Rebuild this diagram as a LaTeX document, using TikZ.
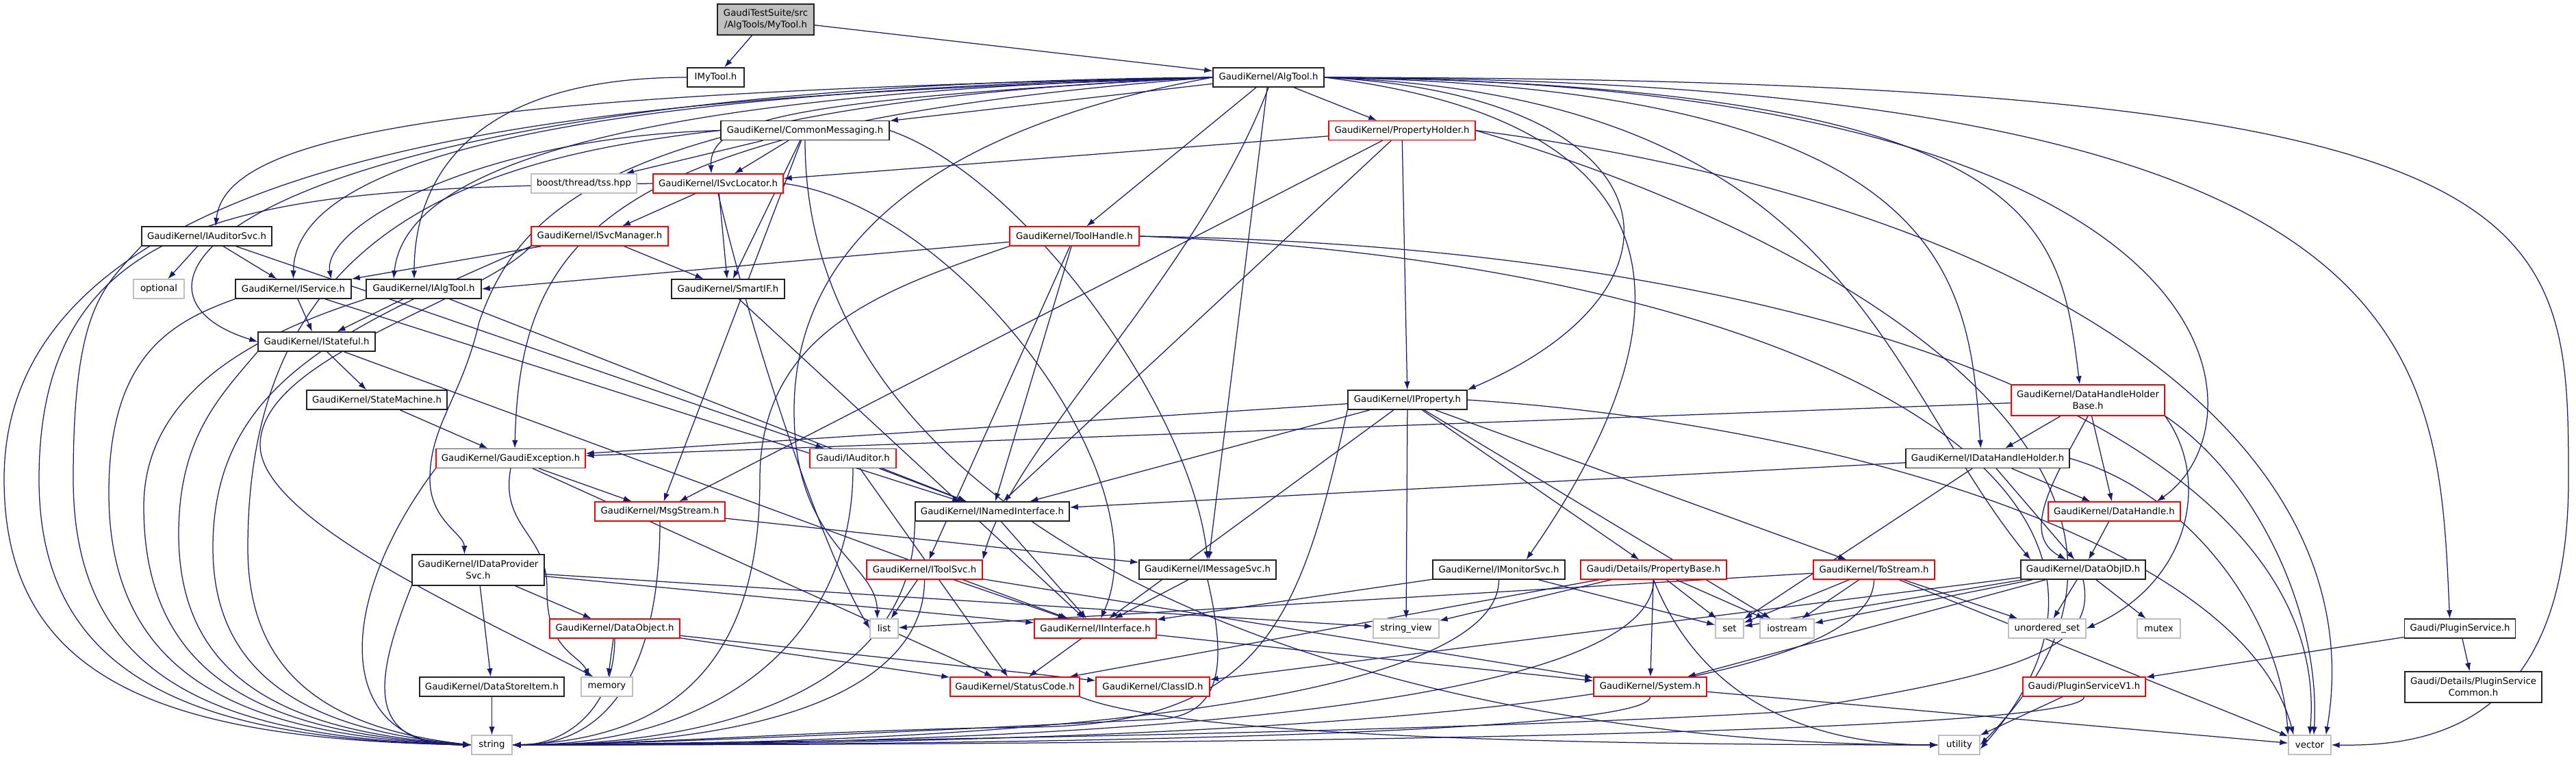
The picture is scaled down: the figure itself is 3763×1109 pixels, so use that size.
\documentclass[tikz,border=0pt]{standalone}
\usepackage{fontspec}
\setmainfont{DejaVu Sans}
\usetikzlibrary{arrows.meta}
\definecolor{edgec}{HTML}{191970}
\definecolor{grayb}{HTML}{BFBFBF}
\definecolor{redb}{HTML}{FF0000}
\definecolor{blackb}{HTML}{222222}
\pgfdeclarelayer{bgfill}
\pgfdeclarelayer{edges}
\pgfsetlayers{bgfill,edges,main}
\begin{document}
\begin{tikzpicture}[x=1pt,y=-1pt,
  box/.style={draw=blackb, line width=1.5pt, fill=white, minimum height=28pt, inner sep=0pt, align=center, font=\fontsize{13.3}{17}\selectfont},
  rbox/.style={box, draw=redb, line width=1.3pt},
  gbox/.style={box, draw=grayb, line width=1.3pt},
  edg/.style={draw=edgec, line width=1.25pt, -{Latex[length=12pt,width=8.5pt]}}]
\begin{pgfonlayer}{bgfill}
\fill[white] (0,0) rectangle (3763,1109);
\end{pgfonlayer}
\useasboundingbox (0,0) rectangle (3763,1109);
% nodes
\node[box, fill=grayb, minimum width=141pt, minimum height=45pt] (MyTool) at (1118.5,28.5) {GaudiTestSuite/src\\/AlgTools/MyTool.h};
\node[box, minimum width=83pt] (IMyTool) at (1045.5,113) {IMyTool.h};
\node[box, minimum width=162pt] (AlgTool) at (1853,113) {GaudiKernel/AlgTool.h};
\node[box, minimum width=246pt] (CommonMsg) at (1176,190.5) {GaudiKernel/CommonMessaging.h};
\node[rbox, minimum width=214pt] (PropHolder) at (2048,190.5) {GaudiKernel/PropertyHolder.h};
\node[gbox, minimum width=154pt] (boost) at (853,268) {boost/thread/tss.hpp};
\node[rbox, minimum width=190pt] (SvcLoc) at (1049,268) {GaudiKernel/ISvcLocator.h};
\node[box, minimum width=190pt] (AudSvc) at (302,345) {GaudiKernel/IAuditorSvc.h};
\node[rbox, minimum width=200pt] (SvcMgr) at (876,345) {GaudiKernel/ISvcManager.h};
\node[rbox, minimum width=189pt] (ToolHandle) at (1569.5,345) {GaudiKernel/ToolHandle.h};
\node[gbox, minimum width=74pt] (optional) at (232,422) {optional};
\node[box, minimum width=169pt] (IService) at (428.5,422) {GaudiKernel/IService.h};
\node[box, minimum width=168pt] (IAlgTool) at (619,422) {GaudiKernel/IAlgTool.h};
\node[box, minimum width=165pt] (SmartIF) at (1063.5,422) {GaudiKernel/SmartIF.h};
\node[box, minimum width=171pt] (IStateful) at (462.5,499) {GaudiKernel/IStateful.h};
\node[box, minimum width=205pt] (StateMachine) at (550.5,584) {GaudiKernel/StateMachine.h};
\node[box, minimum width=174pt] (IProperty) at (2056,584) {GaudiKernel/IProperty.h};
\node[rbox, minimum width=224pt, minimum height=45pt] (DHHB) at (3050,584.5) {GaudiKernel/DataHandleHolder\\Base.h};
\node[rbox, minimum width=218pt] (GaudiExc) at (746,669.5) {GaudiKernel/GaudiException.h};
\node[rbox, minimum width=126pt] (IAuditor) at (1246,669.5) {Gaudi/IAuditor.h};
\node[box, minimum width=239pt] (IDHH) at (2903.5,669.5) {GaudiKernel/IDataHandleHolder.h};
\node[rbox, minimum width=190pt] (MsgStream) at (964,747) {GaudiKernel/MsgStream.h};
\node[box, minimum width=225pt] (INamed) at (1449.5,747) {GaudiKernel/INamedInterface.h};
\node[rbox, minimum width=193pt] (DataHandle) at (3088.5,747) {GaudiKernel/DataHandle.h};
\node[box, minimum width=193pt, minimum height=45pt] (IDPS) at (698.5,832.5) {GaudiKernel/IDataProvider\\Svc.h};
\node[rbox, minimum width=169pt] (IToolSvc) at (1350.5,832) {GaudiKernel/IToolSvc.h};
\node[box, minimum width=200pt] (IMsgSvc) at (1764,832) {GaudiKernel/IMessageSvc.h};
\node[box, minimum width=193pt] (IMonSvc) at (2189.5,832) {GaudiKernel/IMonitorSvc.h};
\node[rbox, minimum width=213pt] (PropBase) at (2415.5,832) {Gaudi/Details/PropertyBase.h};
\node[rbox, minimum width=177pt] (ToStream) at (2737.5,832) {GaudiKernel/ToStream.h};
\node[box, minimum width=182pt] (DataObjID) at (3043,832) {GaudiKernel/DataObjID.h};
\node[rbox, minimum width=190pt] (DataObject) at (898,918) {GaudiKernel/DataObject.h};
\node[gbox, minimum width=41pt] (list) at (1291.5,918) {list};
\node[rbox, minimum width=178pt] (IInterface) at (1600,918) {GaudiKernel/IInterface.h};
\node[gbox, minimum width=96pt] (strview) at (2054,918) {string\_view};
\node[gbox, minimum width=41pt] (set) at (2526.5,918) {set};
\node[gbox, minimum width=79pt] (iostream) at (2610.5,918) {iostream};
\node[gbox, minimum width=113pt] (uset) at (2990.5,918) {unordered\_set};
\node[gbox, minimum width=63pt] (mutex) at (3153.5,918) {mutex};
\node[box, minimum width=162pt] (PluginSvc) at (3593.5,918) {Gaudi/PluginService.h};
\node[box, minimum width=211pt] (DataStoreItem) at (718.5,1003) {GaudiKernel/DataStoreItem.h};
\node[gbox, minimum width=75pt] (memory) at (886.5,1003) {memory};
\node[rbox, minimum width=189pt] (StatusCode) at (1482.5,1003) {GaudiKernel/StatusCode.h};
\node[rbox, minimum width=166pt] (ClassID) at (1684,1003) {GaudiKernel/ClassID.h};
\node[rbox, minimum width=165pt] (System) at (2410.5,1003) {GaudiKernel/System.h};
\node[rbox, minimum width=179pt] (PSV1) at (3044.5,1003) {Gaudi/PluginServiceV1.h};
\node[box, minimum width=200pt, minimum height=45pt] (PSCommon) at (3613,1003.5) {Gaudi/Details/PluginService\\Common.h};
\node[gbox, minimum width=59pt] (string) at (718.5,1088) {string};
\node[gbox, minimum width=60pt] (utility) at (2862,1088) {utility};
\node[gbox, minimum width=62pt] (vector) at (3374,1088) {vector};
% ---------------- edges
\begin{pgfonlayer}{edges}
\draw[edg] (MyTool) -- (IMyTool);
\draw[edg] (MyTool) -- (AlgTool);
\draw[edg] (IMyTool.west) .. controls (700,113) and (605,250) .. ([xshift=-14pt]IAlgTool.north);
% AlgTool
\draw[edg] (AlgTool) -- (CommonMsg);
\draw[edg] (AlgTool) -- (PropHolder);
\draw[edg] (AlgTool) -- (ToolHandle);
\draw[edg] (AlgTool) -- (IMsgSvc);
\draw[edg] (AlgTool.west) .. controls (1150,145) and (1036,175) .. ([xshift=-10pt]SvcLoc.north);
\draw[edg] (AlgTool.west) .. controls (700,135) and (330,190) .. ([xshift=13pt]AudSvc.north);
\draw[edg] (AlgTool.west) .. controls (750,135) and (430,250) .. (IService.north);
\draw[edg] (AlgTool.west) .. controls (850,138) and (590,260) .. ([xshift=-44pt]IAlgTool.north);
\draw[edg] (AlgTool.west) .. controls (350,125) and (120,420) .. (IStateful.west);
\draw[edg] (AlgTool.west) .. controls (900,180) and (760,330) .. ([xshift=6pt]GaudiExc.north);
\draw[edg] (AlgTool.west) .. controls (900,150) and (760,300) .. (700,470) .. controls (675,580) and (628,620) .. (628,700) .. controls (628,760) and (678,780) .. ([xshift=-20pt]IDPS.north);
\draw[edg] (AlgTool.west) .. controls (1300,200) and (1160,400) .. (1160,600) .. controls (1160,800) and (1281,820) .. ([xshift=-10pt]list.north);
\draw[edg] (AlgTool.south) .. controls (1750,400) and (1480,650) .. (IToolSvc.north east);
\draw[edg] (AlgTool.east) .. controls (2400,170) and (2520,400) .. ([xshift=40pt]IMonSvc.north);
\draw[edg] (AlgTool.east) .. controls (2450,140) and (2493,420) .. (IProperty.north east);
\draw[edg] (AlgTool.east) .. controls (2700,140) and (2746,550) .. ([xshift=15pt]DataObjID.north west);
\draw[edg] (AlgTool.east) .. controls (2850,130) and (2876,400) .. ([xshift=-10pt]IDHH.north);
\draw[edg] (AlgTool.east) .. controls (2990,125) and (3009,330) .. ([xshift=-12pt]DHHB.north);
\draw[edg] (AlgTool.east) .. controls (3300,120) and (3313,620) .. ([xshift=-35pt]DataHandle.north east);
\draw[edg] (AlgTool.east) .. controls (3550,118) and (3561,500) .. ([xshift=-15pt]PluginSvc.north);
\draw[edg] (AlgTool.east) .. controls (3740,115) and (3752,300) .. (3752,700) .. controls (3752,1060) and (3550,1090) .. (vector.east);
\draw[edg] (AlgTool.west) .. controls (1100,140) and (6,150) .. (6,700) .. controls (6,1000) and (250,1080) .. (string.west);
% CommonMessaging
\draw[edg] (CommonMsg) -- (boost);
\draw[edg] (CommonMsg) -- (SvcLoc);
\draw[edg] (CommonMsg.west) .. controls (700,200) and (470,330) .. ([xshift=-30pt]IService.north east);
\draw[edg] (CommonMsg) -- (SmartIF);
\draw[edg] (CommonMsg) -- (MsgStream);
\draw[edg] (CommonMsg.east) .. controls (1500,260) and (1740,600) .. (IMsgSvc.north);
\draw[edg] (CommonMsg.south) .. controls +(0,600) and +(-800,0) .. (utility.west);
\draw[edg] (CommonMsg.west) .. controls (700,230) and (362,330) .. (362,800) .. controls (362,1000) and (500,1066) .. (string.west);
% PropertyHolder
\draw[edg] (PropHolder) -- (SvcLoc);
\draw[edg] (PropHolder) -- (IProperty);
\draw[edg] (PropHolder) -- (INamed);
\draw[edg] (PropHolder) -- (MsgStream);
\draw[edg] (PropHolder.east) .. controls (3000,300) and (3470,650) .. ([xshift=-8pt]vector.north east);
\draw[edg] (PropHolder.east) .. controls (2700,350) and (3276,700) .. (utility.east);
% ISvcLocator
\draw[edg] (SvcLoc) -- (SvcMgr);
\draw[edg] (SvcLoc) -- (SmartIF);
\draw[edg] (SvcLoc.east) .. controls (1400,300) and (1700,700) .. ([xshift=8pt]IInterface.north);
\draw[edg] (SvcLoc.south) .. controls (1100,500) and (1200,800) .. (list.west);
\draw[edg] (SvcLoc.west) .. controls (400,275) and (57,290) .. (57,700) .. controls (57,1000) and (300,1080) .. (string.west);
% ISvcManager
\draw[edg] (SvcMgr) -- (IService);
\draw[edg] (SvcMgr) -- (SmartIF);
\draw[edg] (SvcMgr.south west) .. controls (700,440) and (380,520) .. (380,650) .. controls (380,760) and (700,900) .. ([xshift=-20pt]memory.north);
\draw[edg] (SvcMgr.south west) .. controls (500,480) and (311,560) .. (311,800) .. controls (311,1000) and (470,1068) .. (string.west);
% IAuditorSvc
\draw[edg] (AudSvc) -- (optional);
\draw[edg] (AudSvc) -- (IService);
\draw[edg] (AudSvc) -- (IAuditor);
\draw[edg] (AudSvc.south west) .. controls (150,420) and (107,450) .. (107,700) .. controls (107,1000) and (330,1078) .. (string.west);
% IService, IAlgTool, IStateful, SmartIF, StateMachine
\draw[edg] (IService) -- (IStateful);
\draw[edg] (IService) -- (INamed);
\draw[edg] (IService.south west) .. controls (250,470) and (159,520) .. (159,720) .. controls (159,1000) and (370,1075) .. (string.west);
\draw[edg] (IAlgTool) -- (IStateful);
\draw[edg] (IAlgTool) -- (INamed);
\draw[edg] (IAlgTool.south west) .. controls (400,480) and (210,560) .. (210,740) .. controls (210,1000) and (400,1072) .. (string.west);
\draw[edg] (IStateful) -- (StateMachine);
\draw[edg] (IStateful) -- (IInterface);
\draw[edg] (IStateful.south west) .. controls (320,580) and (261,640) .. (261,780) .. controls (261,1000) and (430,1070) .. (string.west);
\draw[edg] (SmartIF) -- (IInterface);
\draw[edg] (StateMachine) -- (GaudiExc);
% ToolHandle
\draw[edg] (ToolHandle) -- (IAlgTool.east);
\draw[edg] (ToolHandle) -- (IToolSvc);
\draw[edg] (ToolHandle) -- (INamed);
\draw[edg] (ToolHandle.east) .. controls (2700,360) and (3410,650) .. (vector.north);
\draw[edg] (ToolHandle.east) .. controls (2600,380) and (3240,700) .. ([yshift=-6pt]utility.east);
\draw[edg] (ToolHandle.south west) .. controls (1300,420) and (1110,480) .. (1110,700) .. controls (1110,1000) and (950,1080) .. (string.east);
% IProperty
\draw[edg] (IProperty) -- (GaudiExc);
\draw[edg] (IProperty) -- (INamed);
\draw[edg] (IProperty) -- (IInterface);
\draw[edg] (IProperty) -- (strview);
\draw[edg] (IProperty) -- (PropBase);
\draw[edg] (IProperty) -- (ToStream);
\draw[edg] (IProperty) -- (iostream);
\draw[edg] (IProperty.east) .. controls (2700,620) and (3280,800) .. ([xshift=8pt]vector.north west);
\draw[edg] (IProperty.south west) .. controls (1900,900) and (1850,1060) .. (1500,1062) .. controls (1200,1066) and (1000,1085) .. (string.east);
% DataHandleHolderBase
\draw[edg] (DHHB) -- (GaudiExc);
\draw[edg] (DHHB) -- (IDHH);
\draw[edg] (DHHB) -- (DataHandle);
\draw[edg] (DHHB.south) .. controls (3000,700) and (2950,780) .. ([xshift=-25pt]DataObjID.north);
\draw[edg] (DHHB.south east) .. controls (3230,700) and (3200,850) .. (uset.east);
\draw[edg] (DHHB.south east) .. controls (3300,700) and (3390,900) .. ([xshift=6pt]vector.north);
% GaudiException
\draw[edg] (GaudiExc) -- (MsgStream);
\draw[edg] (GaudiExc) -- (StatusCode);
\draw[edg] (GaudiExc.south) .. controls (730,770) and (800,780) .. (799,860) .. controls (798,950) and (845,955) .. ([xshift=-25pt]memory.north);
\draw[edg] (GaudiExc.south west) .. controls +(-150,200) and +(-200,0) .. (string.west);
% IAuditor
\draw[edg] (IAuditor) -- (INamed);
\draw[edg] (IAuditor) -- (StatusCode);
\draw[edg] (IAuditor.south) .. controls +(0,250) and +(300,0) .. (string.east);
% IDataHandleHolder
\draw[edg] (IDHH) -- (INamed);
\draw[edg] (IDHH) -- (DataHandle);
\draw[edg] (IDHH) -- (DataObjID);
\draw[edg] (IDHH) -- (set);
\draw[edg] (IDHH.east) .. controls (3200,720) and (3330,900) .. (vector.north west);
% MsgStream, INamedInterface, DataHandle
\draw[edg] (MsgStream) -- (IMsgSvc);
\draw[edg] (MsgStream.south) .. controls +(0,200) and +(150,0) .. (string.east);
\draw[edg] (INamed) -- (IInterface);
\draw[edg] (INamed.south west) .. controls +(0,220) and +(350,0) .. (string.east);
\draw[edg] (DataHandle) -- (DataObjID);
% IDataProviderSvc
\draw[edg] (IDPS) -- (DataObject);
\draw[edg] (IDPS) -- (DataStoreItem);
\draw[edg] (IDPS) -- (IInterface);
\draw[edg] (IDPS) -- (strview);
\draw[edg] (IDPS.south west) .. controls +(-60,150) and +(-150,0) .. (string.west);
% IToolSvc, IMessageSvc, IMonitorSvc
\draw[edg] (IToolSvc) -- (list);
\draw[edg] (IToolSvc) -- (IInterface);
\draw[edg] (IToolSvc) -- (System);
\draw[edg] (IToolSvc.south) .. controls +(0,150) and +(400,0) .. (string.east);
\draw[edg] (IMsgSvc) -- (IInterface);
\draw[edg] (IMsgSvc.south) .. controls (1790,960) and (1790,1040) .. (1700,1050) .. controls (1400,1065) and (1000,1085) .. (string.east);
\draw[edg] (IMonSvc) -- (IInterface);
\draw[edg] (IMonSvc) -- (set);
\draw[edg] (IMonSvc.south) .. controls +(0,170) and +(800,0) .. (string.east);
% PropertyBase
\draw[edg] (PropBase) -- (strview);
\draw[edg] (PropBase) -- (set);
\draw[edg] (PropBase) -- (iostream);
\draw[edg] (PropBase) -- (System);
\draw[edg] (PropBase) -- (StatusCode);
\draw[edg] (PropBase.south) .. controls +(80,200) and +(-150,0) .. (utility.west);
\draw[edg] (PropBase.south) .. controls +(0,180) and +(900,0) .. (string.east);
% ToStream
\draw[edg] (ToStream) -- (list);
\draw[edg] (ToStream) -- (set);
\draw[edg] (ToStream) -- (iostream);
\draw[edg] (ToStream) -- (uset);
\draw[edg] (ToStream) -- (vector);
\draw[edg] (ToStream.south) .. controls +(0,190) and +(1000,0) .. (string.east);
% DataObjID
\draw[edg] (DataObjID) -- (ClassID);
\draw[edg] (DataObjID) -- (iostream);
\draw[edg] (DataObjID) -- (set);
\draw[edg] (DataObjID) -- (System);
\draw[edg] (DataObjID) -- (uset);
\draw[edg] (DataObjID) -- (mutex);
\draw[edg] (DataObjID.south) .. controls (3065,950) and (2950,985) .. (2600,1040) .. controls (2000,1075) and (1000,1085) .. (string.east);
% Plugin service
\draw[edg] (PluginSvc) -- (PSV1);
\draw[edg] (PluginSvc) -- (PSCommon);
\draw[edg] (PSV1) -- (utility);
\draw[edg] (PSV1.south) .. controls +(0,50) and +(1200,0) .. (string.east);
% IInterface, System, StatusCode, DataObject, DataStoreItem
\draw[edg] (IInterface) -- (StatusCode);
\draw[edg] (IInterface) -- (System);
\draw[edg] (System) -- (vector);
\draw[edg] (System.south) .. controls +(0,50) and +(900,0) .. (string.east);
\draw[edg] (StatusCode.south east) .. controls +(150,60) and +(-500,0) .. (utility.west);
\draw[edg] (DataObject) -- (memory);
\draw[edg] (DataObject) -- (StatusCode);
\draw[edg] (DataObject) -- (ClassID);
\draw[edg] (DataObject.south) .. controls +(0,100) and +(80,0) .. (string.east);
\draw[edg] (DataStoreItem) -- (string);
\end{pgfonlayer}
\end{tikzpicture}
\end{document}
